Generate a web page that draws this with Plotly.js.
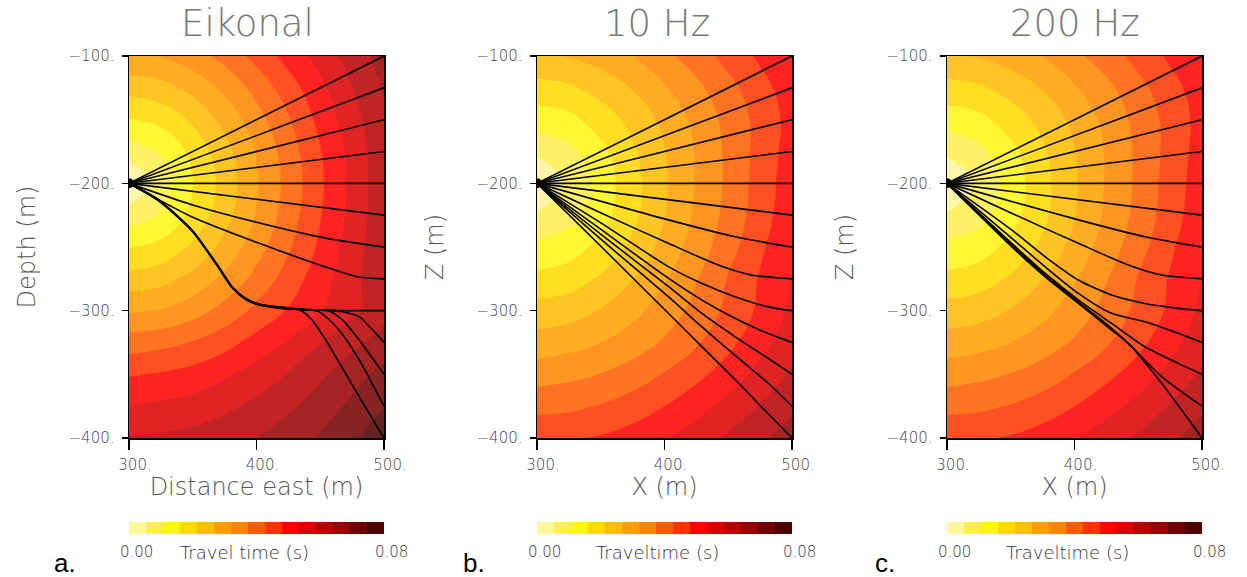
<!DOCTYPE html>
<html><head><meta charset="utf-8">
<script src="https://cdn.plot.ly/plotly-3.0.1.min.js"></script>
<style>body{margin:0;background:#fff}#chart{width:1247px;height:577px}</style>
</head><body><div id="chart"></div>
<script>
// ---- grid of the travel-time field (milliseconds) ----
const gridX = [300, 325, 350, 375, 400, 425, 450, 475, 500];
const gridZ = [-100, -125, -150, -175, -200, -225, -250, -275, -300, -325, -350, -375, -400];

const ttEikonal = [
  [31.4, 32.3, 35.1, 39.2, 44.4, 50.0, 55.5, 61.0, 66.5],
  [23.5, 24.8, 28.3, 33.3, 39.2, 45.5, 52.0, 58.5, 64.5],
  [15.7, 17.5, 22.2, 28.3, 35.1, 42.2, 49.6, 56.5, 63.5],
  [7.8, 11.1, 17.5, 24.8, 32.3, 40.0, 47.7, 55.0, 62.5],
  [0.0, 7.8, 15.7, 23.5, 31.4, 39.2, 47.1, 54.9, 62.5],
  [7.8, 11.1, 17.5, 24.8, 32.3, 40.0, 47.7, 55.0, 62.5],
  [15.7, 17.5, 22.2, 28.3, 35.1, 42.0, 49.0, 56.0, 63.0],
  [23.5, 24.8, 28.3, 33.3, 39.0, 45.0, 51.0, 57.0, 63.0],
  [31.4, 32.3, 35.1, 39.2, 44.0, 48.5, 53.0, 57.5, 62.0],
  [40.0, 41.0, 43.0, 46.0, 50.0, 54.0, 58.5, 62.5, 66.5],
  [47.5, 48.5, 50.0, 52.5, 55.5, 59.0, 63.0, 67.0, 71.0],
  [53.5, 54.5, 55.5, 57.5, 60.0, 63.0, 66.5, 70.5, 74.5],
  [59.0, 59.5, 60.5, 62.0, 64.0, 67.0, 70.0, 74.0, 78.0]
];

const tt10Hz = [
  [26.0, 27.0, 29.0, 32.0, 36.0, 40.0, 44.5, 49.0, 53.5],
  [19.5, 20.5, 23.5, 27.0, 31.5, 36.0, 41.0, 46.0, 51.0],
  [13.0, 14.5, 18.5, 23.0, 28.0, 33.5, 39.0, 44.5, 50.0],
  [6.5, 9.2, 14.5, 20.5, 26.5, 32.5, 38.5, 44.5, 50.5],
  [0.0, 6.5, 13.0, 19.5, 26.0, 32.5, 38.5, 45.0, 51.0],
  [6.0, 8.8, 14.0, 20.0, 26.5, 33.0, 39.0, 45.5, 51.5],
  [12.0, 13.5, 17.5, 22.5, 28.5, 34.5, 40.5, 47.0, 53.0],
  [17.5, 18.8, 22.0, 26.5, 31.5, 37.0, 43.0, 48.5, 53.5],
  [23.5, 24.5, 27.0, 30.5, 34.5, 39.0, 44.0, 49.0, 54.5],
  [29.0, 30.0, 32.0, 34.5, 38.0, 42.0, 46.5, 51.5, 56.5],
  [35.0, 36.0, 37.5, 40.0, 43.0, 46.5, 50.5, 55.0, 59.5],
  [41.0, 41.5, 43.0, 45.0, 48.0, 51.5, 55.0, 59.0, 63.0],
  [47.0, 47.5, 48.5, 50.5, 53.0, 56.0, 59.5, 63.0, 66.5]
];

const tt200Hz = [
  [26.0, 27.0, 29.0, 32.0, 36.0, 40.0, 44.5, 49.0, 53.5],
  [19.5, 20.5, 23.5, 27.0, 31.5, 36.0, 41.0, 46.0, 51.0],
  [13.0, 14.5, 18.5, 23.0, 28.0, 33.5, 39.0, 44.5, 50.0],
  [6.5, 9.2, 14.5, 20.5, 26.5, 32.5, 38.5, 44.5, 50.5],
  [0.0, 6.5, 13.0, 19.5, 26.0, 32.5, 38.5, 45.0, 51.0],
  [6.0, 8.8, 14.0, 20.0, 26.5, 33.0, 39.0, 45.5, 51.5],
  [12.0, 13.5, 17.5, 22.5, 28.5, 34.5, 40.5, 47.0, 53.0],
  [17.5, 18.8, 22.0, 26.5, 31.5, 37.0, 43.0, 48.5, 53.5],
  [23.5, 24.5, 27.0, 30.5, 34.5, 39.0, 44.0, 49.0, 54.5],
  [29.0, 30.0, 32.0, 34.5, 38.0, 42.0, 46.5, 51.5, 56.5],
  [35.0, 36.0, 37.5, 40.0, 43.0, 46.5, 50.5, 55.0, 59.5],
  [41.0, 41.5, 43.0, 45.0, 48.0, 51.5, 55.0, 59.0, 63.0],
  [47.0, 47.5, 48.5, 50.5, 53.0, 56.0, 59.5, 63.0, 66.5]
];

// ---- ray paths (x in m, z in m) ----
const raysEikonalX = [
  [300, 500], [300, 500], [300, 500], [300, 500], [300, 500],
  [300, 400, 500],
  [300, 350, 401.6, 454, 500],
  [300, 349.6, 401.6, 454.3, 480.3, 500],
  [300, 323, 349.4, 370.3, 380.9, 391.3, 401.8, 415, 428, 445, 467, 480.5, 490, 500],
  [300, 323, 349.4, 370.3, 380.9, 391.3, 401.8, 415, 428, 445, 458, 467.4, 480.5, 491, 500],
  [300, 323, 349.4, 370.3, 380.9, 391.3, 401.8, 415, 428, 445, 456.9, 467.4, 480.5, 500],
  [300, 323, 349.4, 370.3, 380.9, 391.3, 401.8, 415, 428, 440, 448, 454.3, 464.8, 480.5, 500],
  [300, 323, 349.4, 370.3, 380.9, 391.3, 401.8, 415, 428, 434, 443.5, 454.3, 480.5, 500]
];
const raysEikonalZ = [
  [-200, -100], [-200, -125], [-200, -150], [-200, -175], [-200, -200],
  [-200, -212.5, -225],
  [-200, -217, -231, -243, -250],
  [-200, -226.4, -246.9, -265.7, -273.6, -275],
  [-200, -213.6, -237.4, -266.3, -282, -291, -295.5, -297.6, -298.9, -299.5, -300, -300, -300, -300],
  [-200, -213.4, -237.2, -266.1, -281.8, -290.8, -295.3, -297.4, -298.7, -299.3, -299.8, -300.8, -304.7, -315, -325],
  [-200, -213.2, -237, -265.9, -281.6, -290.6, -295.1, -297.2, -298.5, -299.3, -300.2, -307.3, -323, -350],
  [-200, -213, -236.8, -265.7, -281.4, -290.4, -294.9, -297, -298.3, -299.3, -300.5, -304.7, -315.2, -338.7, -375],
  [-200, -212.8, -236.6, -265.5, -281.2, -290.2, -294.7, -296.8, -298.1, -299.5, -307.3, -323, -367.5, -400]
];

const rays10HzX = [
  [300, 500], [300, 500], [300, 500], [300, 500], [300, 500],
  [300, 500],
  [300, 403, 455.2, 500],
  [300, 350.7, 403, 442.2, 468.3, 500],
  [300, 350.7, 403, 429.1, 455.2, 481.4, 500],
  [300, 350.7, 403, 429.1, 455.2, 481.4, 500],
  [300, 350.7, 403, 429.1, 455.2, 481.4, 500],
  [300, 350.7, 403, 429.1, 455.2, 481.4, 500],
  [300, 350.7, 403, 429.1, 455.2, 481.4, 500]
];
const rays10HzZ = [
  [-200, -100], [-200, -125], [-200, -150], [-200, -175], [-200, -200],
  [-200, -225],
  [-200, -228.7, -241.9, -250],
  [-200, -223.5, -247.1, -264.1, -272, -275],
  [-200, -231.4, -265.4, -278.5, -289, -297, -300],
  [-200, -236.6, -274.5, -291.5, -306, -318, -325],
  [-200, -240.5, -281, -302, -320.4, -337.5, -350],
  [-200, -244.4, -289, -312.5, -335, -357, -375],
  [-200, -250, -302, -328, -354, -381, -400]
];

const rays200HzX = [
  [300, 500], [300, 500], [300, 500], [300, 500], [300, 500],
  [300, 500],
  [300, 403, 455.2, 500],
  [300, 350.7, 403, 442.2, 468.3, 500],
  [300, 350.7, 376.8, 403, 429.1, 455.2, 481.4, 500],
  [300, 350.7, 376.8, 403, 429.1, 455.2, 481.4, 500],
  [300, 350.7, 376.8, 403, 429.1, 455.2, 481.4, 500],
  [300, 350.7, 376.8, 403, 429.1, 444.8, 468.3, 500],
  [300, 350.7, 376.8, 403, 429.1, 442.2, 468.3, 500]
];
const rays200HzZ = [
  [-200, -100], [-200, -125], [-200, -150], [-200, -175], [-200, -200],
  [-200, -225],
  [-200, -228.7, -241.9, -250],
  [-200, -223.5, -247.1, -264.1, -272, -275],
  [-200, -236.6, -257.5, -275.9, -287.7, -294.3, -298.2, -300],
  [-200, -243.1, -265.4, -286.4, -302.1, -308.7, -317.8, -325],
  [-200, -247.1, -270.6, -291.6, -310, -328.3, -341.4, -350],
  [-200, -248.4, -272, -293, -313.9, -328.3, -351.8, -375],
  [-200, -249.7, -273.3, -294.3, -315.2, -325.7, -357, -400]
];

const sourceX = [300];
const sourceZ = [-200];

// ---- labels ----
const panelTitles = ['Eikonal', '10 Hz', '200 Hz'];
const xTitles = ['Distance east (m)', 'X (m)', 'X (m)'];
const yTitles = ['Depth (m)', 'Z (m)', 'Z (m)'];
const cbTitles = ['Travel time (s)', 'Traveltime (s)', 'Traveltime (s)'];
const cbEndLabels = ['0.00', '0.08'];
const panelLetters = ['a.', 'b.', 'c.'];
const xTickVals = [300, 400, 500];
const xTickText = ['300.', '400.', '500.'];
const zTickVals = [-100, -200, -300, -400];
const zTickText = ['\u2212100.', '\u2212200.', '\u2212300.', '\u2212400.'];
const timeRange = [0, 0.08];
const nBands = 15;
const bandColors = ['#fff79c', '#fff04f', '#fff612', '#ffd900', '#ffbd00', '#ffa000',
  '#ff8400', '#ff5e00', '#ff3400', '#ff0000', '#db0000', '#b90000', '#970000', '#730000', '#4c0000'];

// ---- layout geometry (pixels) ----
const W = 1247, H = 577;
const plotLeft = [129, 537, 947];
const plotW = 255;
const plotTop = 56, plotBottom = 438;
const cbTop = 522, cbBottom = 534;

const stepScale = [];
bandColors.forEach((c, i) => { stepScale.push([i / nBands, c]); stepScale.push([(i + 1) / nBands, c]); });

const fields = [ttEikonal, tt10Hz, tt200Hz];
const raysX = [raysEikonalX, rays10HzX, rays200HzX];
const raysZ = [raysEikonalZ, rays10HzZ, rays200HzZ];

const lightFont = {family: 'DejaVu Sans', weight: 300};
const traces = [];
const layout = {
  width: W, height: H, margin: {l: 0, r: 0, t: 0, b: 0},
  paper_bgcolor: '#fff', plot_bgcolor: '#fff', showlegend: false,
  annotations: []
};
const step = (timeRange[1] - timeRange[0]) / nBands;

for (let p = 0; p < 3; p++) {
  const xa = p === 0 ? 'x' : 'x' + (p + 1);
  const ya = p === 0 ? 'y' : 'y' + (p + 1);
  traces.push({
    type: 'contour', x: gridX, y: gridZ,
    z: fields[p].map(r => r.map(v => v / 1000)),
    xaxis: xa, yaxis: ya,
    colorscale: stepScale, zmin: timeRange[0], zmax: timeRange[1], zauto: false,
    contours: {coloring: 'fill', start: step, end: step * (nBands - 1), size: step, showlines: false},
    line: {width: 0, smoothing: 1.3},
    opacity: 0.86,
    hoverinfo: 'skip',
    showscale: true,
    colorbar: {
      orientation: 'h', x: plotLeft[p] / W, xanchor: 'left', xref: 'paper',
      y: 1 - cbBottom / H, yanchor: 'bottom', yref: 'paper',
      len: plotW, lenmode: 'pixels', thickness: cbBottom - cbTop, thicknessmode: 'pixels',
      outlinewidth: 0, borderwidth: 0, xpad: 0, ypad: 0,
      showticklabels: false, ticks: ''
    }
  });
  for (let r = 0; r < raysX[p].length; r++) {
    traces.push({
      type: 'scatter', mode: 'lines', x: raysX[p][r], y: raysZ[p][r],
      xaxis: xa, yaxis: ya,
      line: {color: '#000', width: 1.6, shape: 'spline', smoothing: 0.7},
      hoverinfo: 'skip'
    });
  }
  traces.push({
    type: 'scatter', mode: 'markers', x: sourceX, y: sourceZ, xaxis: xa, yaxis: ya,
    marker: {color: '#000', size: 10}, hoverinfo: 'skip'
  });

  const xKey = p === 0 ? 'xaxis' : 'xaxis' + (p + 1);
  const yKey = p === 0 ? 'yaxis' : 'yaxis' + (p + 1);
  const tickFont = Object.assign({size: 15, color: '#444'}, lightFont);
  layout[xKey] = {
    domain: [plotLeft[p] / W, (plotLeft[p] + plotW) / W], anchor: ya,
    range: [300, 500], tickvals: xTickVals, ticktext: xTickText,
    showgrid: false, zeroline: false, showline: true, mirror: true,
    linecolor: '#000', linewidth: 1.5, ticks: 'outside', ticklen: 10, tickwidth: 1.5, tickcolor: '#000',
    ticklabelshift: 6, ticklabelstandoff: 2,
    tickfont: tickFont,
    title: {text: xTitles[p], font: Object.assign({size: 24, color: '#555'}, lightFont), standoff: 2}
  };
  layout[yKey] = {
    domain: [1 - plotBottom / H, 1 - plotTop / H], anchor: xa,
    range: [-400, -100], tickvals: zTickVals, ticktext: zTickText,
    showgrid: false, zeroline: false, showline: true, mirror: true,
    linecolor: '#000', linewidth: 1.5, ticks: 'outside', ticklen: 6, tickwidth: 1.5, tickcolor: '#000',
    ticklabelstandoff: 4,
    tickfont: tickFont,
    title: {text: yTitles[p], font: Object.assign({size: 24, color: '#555'}, lightFont), standoff: 26}
  };

  const titleCx = [247, 657, 1075][p];
  layout.annotations.push({
    text: panelTitles[p], xref: 'paper', yref: 'paper', x: titleCx / W, y: 1 - 24 / H,
    xanchor: 'center', yanchor: 'middle', showarrow: false,
    font: Object.assign({size: 37, color: '#777'}, lightFont)
  });
  layout.annotations.push({
    text: panelLetters[p], xref: 'paper', yref: 'paper', x: [52, 461, 873][p] / W, y: 1 - 563 / H,
    xanchor: 'left', yanchor: 'middle', showarrow: false,
    font: {family: 'Liberation Sans', size: 26, color: '#000'}
  });
  const cbLabelY = 1 - 552 / H;
  layout.annotations.push({
    text: cbEndLabels[0], xref: 'paper', yref: 'paper', x: (plotLeft[p] + 7) / W, y: cbLabelY,
    xanchor: 'center', yanchor: 'middle', showarrow: false,
    font: Object.assign({size: 15, color: '#333'}, lightFont)
  });
  layout.annotations.push({
    text: cbEndLabels[1], xref: 'paper', yref: 'paper', x: (plotLeft[p] + plotW + 7) / W, y: cbLabelY,
    xanchor: 'center', yanchor: 'middle', showarrow: false,
    font: Object.assign({size: 15, color: '#333'}, lightFont)
  });
  layout.annotations.push({
    text: cbTitles[p], xref: 'paper', yref: 'paper', x: [244, 657, 1067][p] / W, y: cbLabelY,
    xanchor: 'center', yanchor: 'middle', showarrow: false,
    font: Object.assign({size: 18, color: '#333'}, lightFont)
  });
}

Plotly.newPlot('chart', traces, layout, {displayModeBar: false, staticPlot: true});
</script>
</body></html>
